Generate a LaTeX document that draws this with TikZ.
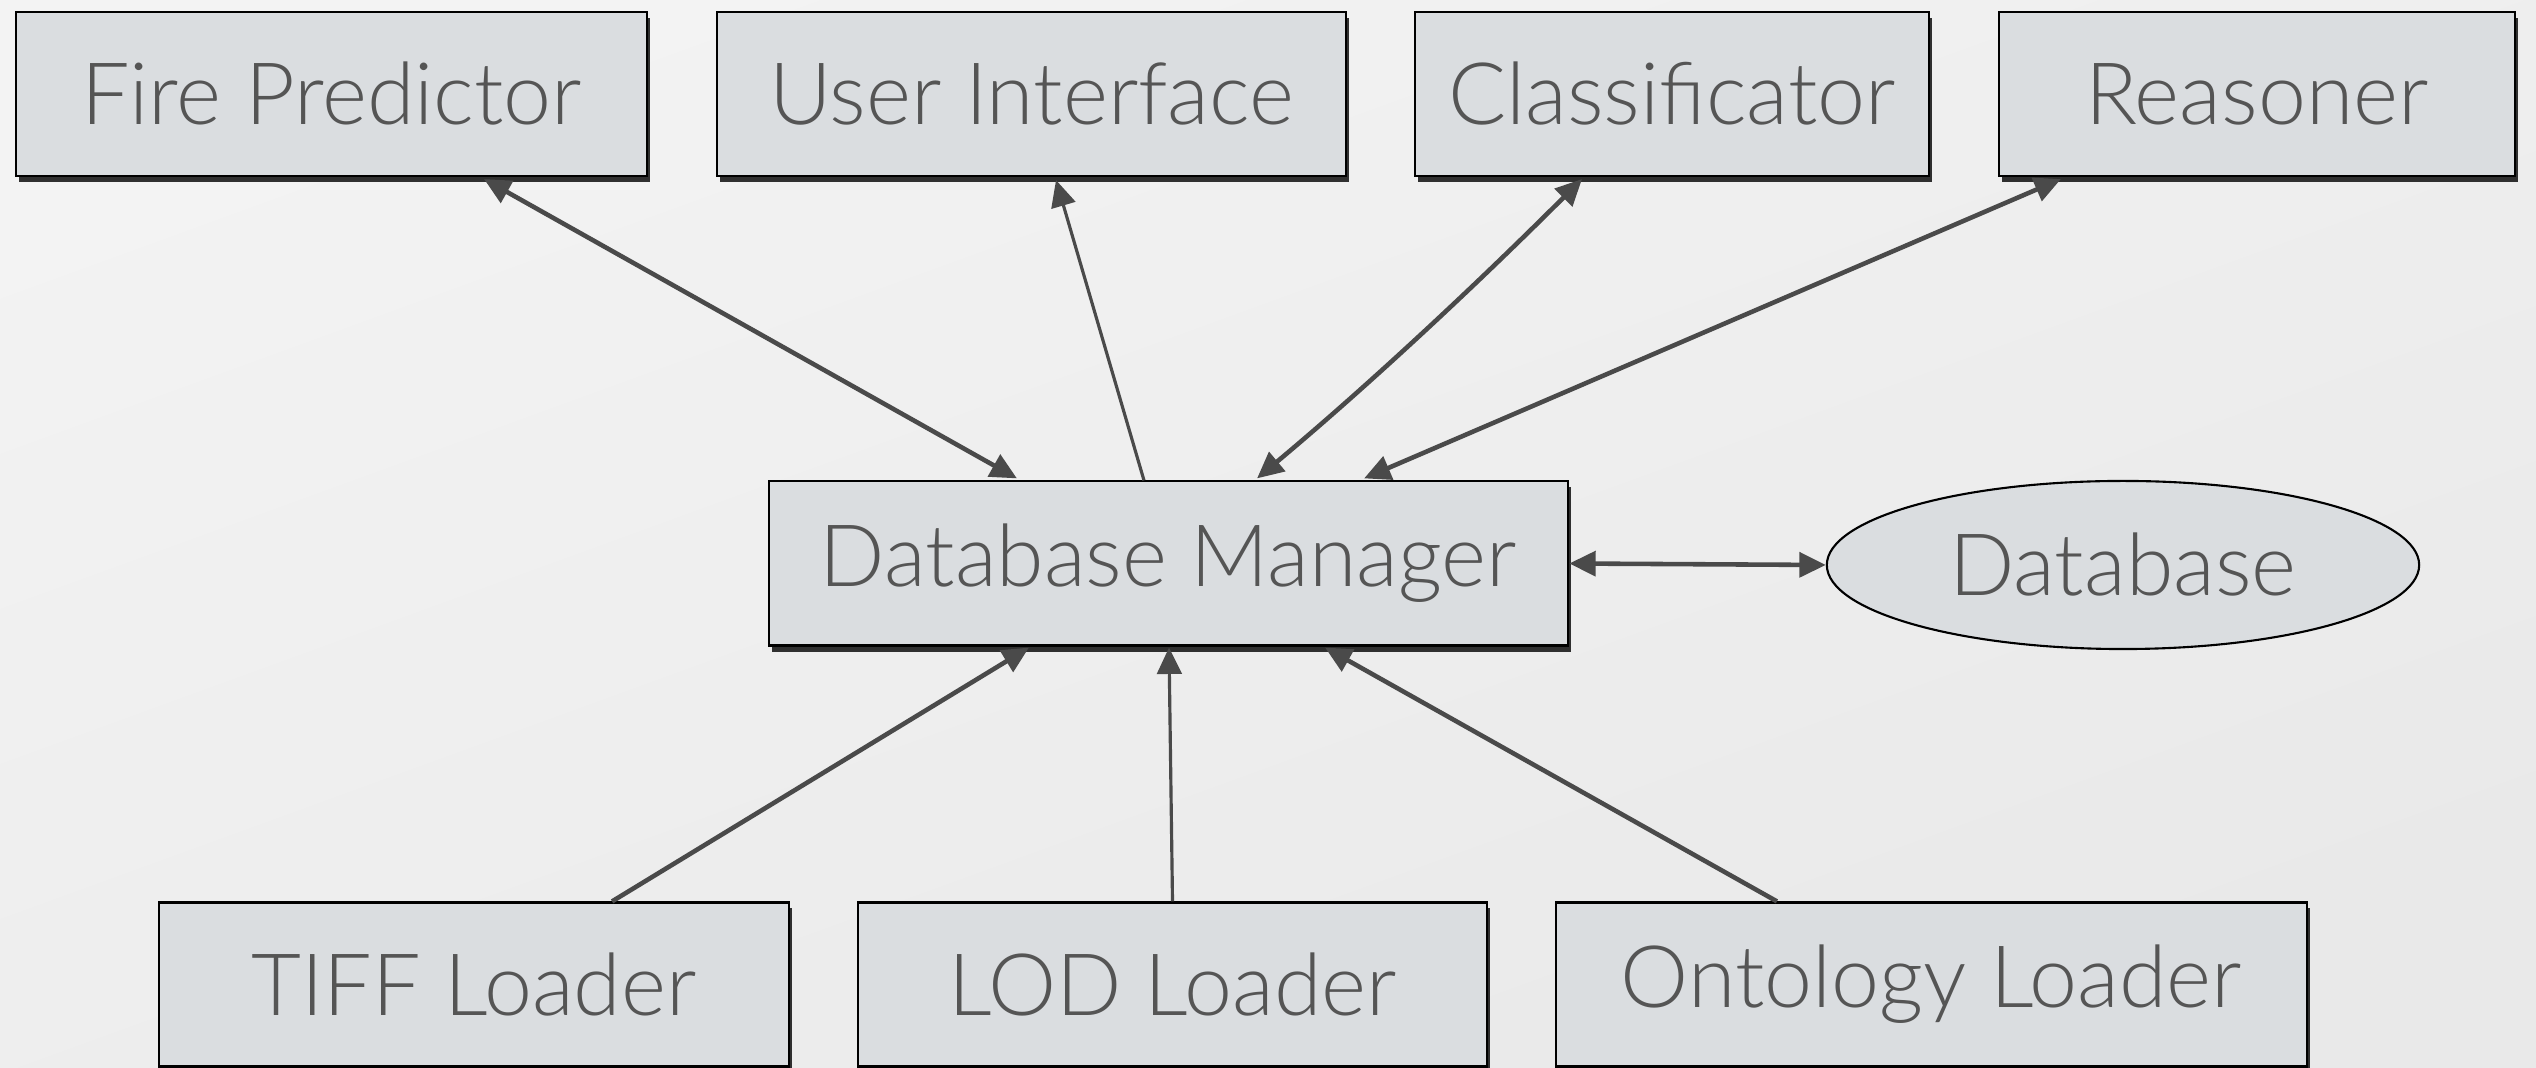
\documentclass[tikz,border=0pt]{standalone}
\usepackage{fontspec}
\setmainfont{Lato Light}
\usetikzlibrary{arrows.meta,shapes.geometric,shadows}
\definecolor{bgtop}{RGB}{243,243,243}
\definecolor{bgbot}{RGB}{233,233,233}
\definecolor{boxfill}{RGB}{218,221,224}
\definecolor{txt}{RGB}{85,85,85}
\definecolor{arr}{RGB}{74,74,74}
\tikzset{
  comp/.style={draw=black, line width=0.6pt, fill=boxfill, minimum height=1.64cm,
    inner sep=0pt, text=txt, font=\fontsize{24.5}{28}\selectfont,
    drop shadow={shadow xshift=0.03cm, shadow yshift=-0.06cm, opacity=0.8, fill=black}},
  store/.style={ellipse, draw=black, line width=0.6pt, fill=boxfill, inner sep=0pt,
    text=txt, font=\fontsize{24.5}{28}\selectfont},
  conn/.style={draw=arr, line width=1.3pt, -{Triangle[length=7.5pt,width=7pt]}},
  thin conn/.style={conn, line width=0.9pt},
  both/.style={{Triangle[length=7.5pt,width=7pt]}-{Triangle[length=7.5pt,width=7pt]}},
}
\begin{document}
\begin{tikzpicture}[x=0.01cm, y=-0.01cm]
\shade[top color=bgtop, bottom color=bgbot, shading angle=20] (0,0) rectangle (2536,1068);
\useasboundingbox (0,0) rectangle (2536,1068);

\node[comp, minimum width=6.31cm] (fp) at (331.5,94) {Fire Predictor};
\node[comp, minimum width=6.29cm] (ui) at (1031.5,94) {User Interface};
\node[comp, minimum width=5.14cm] (cl) at (1672,94) {Classificator};
\node[comp, minimum width=5.16cm] (re) at (2257,94) {Reasoner};

\node[comp, minimum width=7.99cm] (dm) at (1168.5,563.5) {Database Manager};
\node[store, minimum width=5.92cm, minimum height=1.68cm] (db) at (2123,565) {Database};

\node[comp, minimum width=6.30cm] (tiff) at (474,984.5) {TIFF Loader};
\node[comp, minimum width=6.29cm] (lod) at (1172.5,984.5) {LOD Loader};
\node[comp, minimum width=7.51cm] (ont) at (1931.5,984.5) {Ontology Loader};

\coordinate (clbenda) at (1370,384);
\coordinate (clbendb) at (1478,283);

% top connectors
\draw[conn, both]
  ([xshift=1.525cm,yshift=-0.02cm]fp.south) -- ([xshift=-1.515cm,yshift=0.02cm]dm.north);
\draw[thin conn] ([xshift=-0.245cm]dm.north) -- ([xshift=0.245cm,yshift=-0.03cm]ui.south);
\draw[conn, both]
  ([xshift=0.885cm,yshift=0.02cm]dm.north) .. controls (clbenda) and (clbendb) .. ([xshift=-0.9cm,yshift=-0.02cm]cl.south);
\draw[conn, both]
  ([xshift=1.955cm,yshift=0.02cm]dm.north) -- ([xshift=-1.96cm,yshift=-0.02cm]re.south);

% database link
\draw[conn, both] (dm.east) -- (db.west);

% bottom connectors
\draw[conn] ([xshift=1.38cm]tiff.north) -- ([xshift=-1.395cm,yshift=-0.01cm]dm.south);
\draw[thin conn] (lod.north) -- ([xshift=0.005cm,yshift=-0.01cm]dm.south);
\draw[conn] ([xshift=-1.545cm]ont.north) -- ([xshift=1.565cm,yshift=-0.01cm]dm.south);
\end{tikzpicture}
\end{document}
